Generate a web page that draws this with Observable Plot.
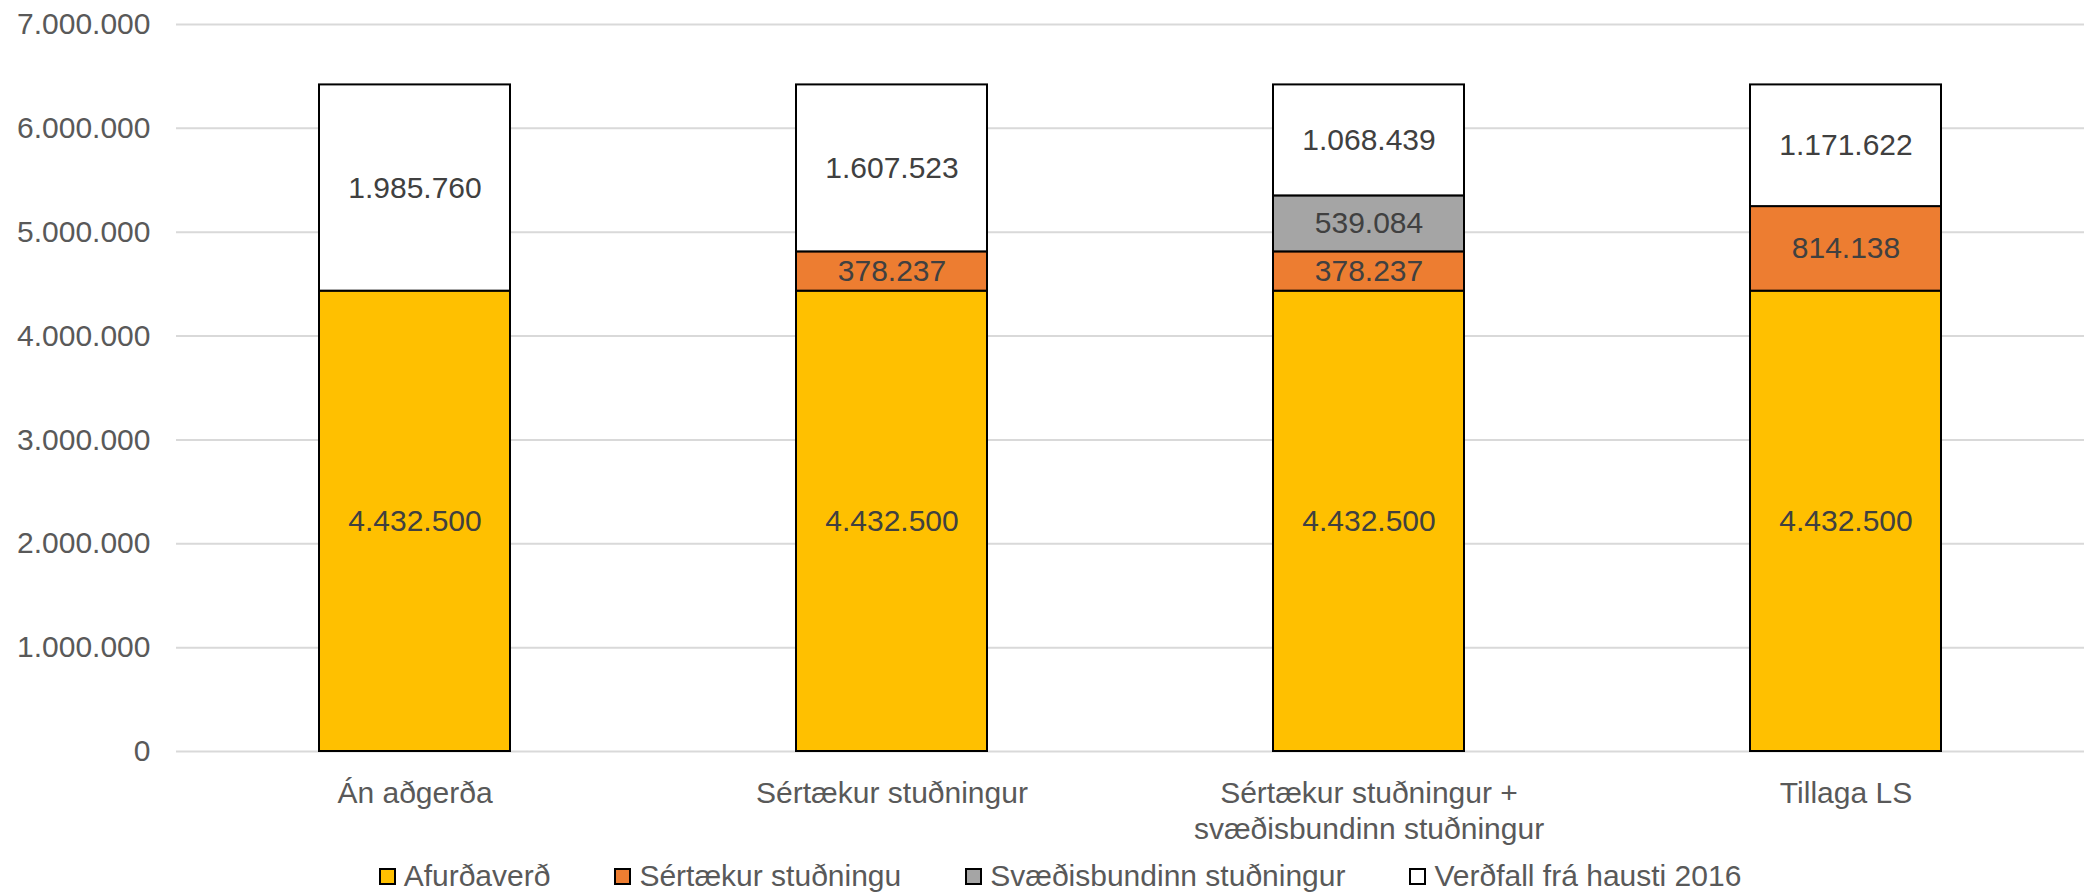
<!DOCTYPE html>
<html>
<head>
<meta charset="utf-8">
<script src="https://cdn.jsdelivr.net/npm/d3@7"></script>
<script src="https://cdn.jsdelivr.net/npm/@observablehq/plot@0.6"></script>
<style>
  html, body { margin: 0; padding: 0; background: #fff; overflow: hidden; }
  body { font-family: "Liberation Sans", Arial, sans-serif; }
  #legend {
    display: flex; justify-content: center; align-items: center;
    height: 36px; margin-top: 10px; padding-left: 36px;
    font-size: 30px; color: #595959; line-height: 36px;
  }
  .item { display: flex; align-items: center; margin-right: 64px; }
  .item:last-child { margin-right: 0; }
  .sw { width: 13px; height: 13px; border: 2px solid #000; margin-right: 8px; }
</style>
</head>
<body>
<div id="chart"></div>
<div id="legend"></div>
<script>
// ---- Data ----
const categories = [
  "Án aðgerða",
  "Sértækur stuðningur",
  "Sértækur stuðningur +\nsvæðisbundinn stuðningur",
  "Tillaga LS"
];
const seriesNames = [
  "Afurðaverð",
  "Sértækur stuðningu",
  "Svæðisbundinn stuðningur",
  "Verðfall frá hausti 2016"
];
const afurdaverd = [4432500, 4432500, 4432500, 4432500];
const sertaekur  = [0, 378237, 378237, 814138];
const svaedis    = [0, 0, 539084, 0];
const verdfall   = [1985760, 1607523, 1068439, 1171622];
const yTicks = [0, 1000000, 2000000, 3000000, 4000000, 5000000, 6000000, 7000000];
const seriesColors = ["#FFC000", "#ED7D31", "#A5A5A5", "#FFFFFF"];

const seriesValues = [afurdaverd, sertaekur, svaedis, verdfall];
const data = [];
seriesNames.forEach((s, si) => {
  categories.forEach((c, ci) => {
    const v = seriesValues[si][ci];
    if (v > 0) data.push({ category: c, series: s, value: v });
  });
});

const locale = d3.formatLocale({ decimal: ",", thousands: ".", grouping: [3], currency: ["", ""] });
const fmt = locale.format(",d");

const chart = Plot.plot({
  width: 2084,
  height: 848,
  marginLeft: 176,
  marginRight: 0,
  marginTop: 24,
  marginBottom: 97,
  style: { fontFamily: "'Liberation Sans', Arial, sans-serif", fontSize: "30px", color: "#595959", background: "#fff" },
  x: { domain: categories, paddingInner: 0.6, paddingOuter: 0.3, label: null },
  y: { domain: [0, 7000000], label: null },
  color: { domain: seriesNames, range: seriesColors },
  marks: [
    Plot.gridY(yTicks, { stroke: "#D9D9D9", strokeOpacity: 1, strokeWidth: 2 }),
    Plot.axisY(yTicks, { tickSize: 0, tickPadding: 26, tickFormat: fmt, fontSize: 30, fill: "#595959", label: null }),
    Plot.axisX({ tickSize: 0, tickPadding: 26, fontSize: 30, fill: "#595959", lineHeight: 1.2, label: null }),
    Plot.barY(data, { x: "category", y: "value", fill: "series", stroke: "#000", strokeWidth: 2 }),
    Plot.text(data, Plot.stackY({ x: "category", y: "value", text: d => fmt(d.value), fill: "#404040", fontSize: 30 }))
  ]
});
document.getElementById("chart").appendChild(chart);

const legend = document.getElementById("legend");
seriesNames.forEach((s, i) => {
  const item = document.createElement("div");
  item.className = "item";
  const sw = document.createElement("div");
  sw.className = "sw";
  sw.style.background = seriesColors[i];
  const label = document.createElement("span");
  label.textContent = s;
  item.appendChild(sw);
  item.appendChild(label);
  legend.appendChild(item);
});
</script>
</body>
</html>
